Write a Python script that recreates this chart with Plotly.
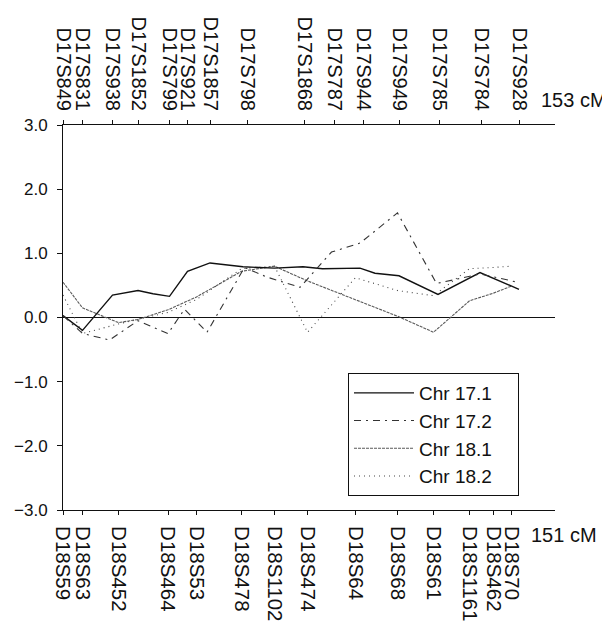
import plotly.graph_objects as go

# Marker positions (cM) and names
chr17_markers = ["D17S849", "D17S831", "D17S938", "D17S1852", "D17S799", "D17S921", "D17S1857",
                 "D17S798", "D17S1868", "D17S787", "D17S944", "D17S949", "D17S785", "D17S784", "D17S928"]
chr17_pos = [0, 6.5, 16.5, 25, 35.5, 41.5, 49, 61.5, 80.5, 90.5, 100, 112, 125.5, 139.5, 152]

chr18_markers = ["D18S59", "D18S63", "D18S452", "D18S464", "D18S53", "D18S478", "D18S1102",
                 "D18S474", "D18S64", "D18S68", "D18S61", "D18S1161", "D18S462", "D18S70"]
chr18_pos = [0, 6.5, 18.5, 35, 44.5, 59.5, 70.5, 81.5, 97.5, 111.5, 123.5, 135.5, 143.5, 149.5]

# Series
chr17_1_x = [0, 6.5, 16.5, 25, 30, 35.5, 41.5, 49, 60, 70.5, 80, 86.5, 99, 104, 112, 125, 139, 152]
chr17_1_y = [0.03, -0.2, 0.35, 0.42, 0.37, 0.33, 0.72, 0.85, 0.79, 0.77, 0.79, 0.76, 0.77, 0.69, 0.65, 0.36, 0.70, 0.44]

chr17_2_x = [0, 6.5, 15.5, 25, 35, 40.5, 48, 60.5, 68, 76.5, 79, 89.5, 99, 111.5, 124.5, 132.5, 139, 151.5]
chr17_2_y = [0.03, -0.25, -0.35, -0.05, -0.25, 0.13, -0.23, 0.78, 0.63, 0.5, 0.47, 1.02, 1.16, 1.63, 0.53, 0.61, 0.68, 0.55]

chr18_1_x = [0, 6.5, 18.5, 25, 35, 44.5, 59.5, 70.5, 81.5, 97.5, 111.5, 123.5, 135.5, 143.5, 149.5]
chr18_1_y = [0.55, 0.15, -0.08, -0.03, 0.12, 0.32, 0.72, 0.8, 0.57, 0.27, 0.02, -0.23, 0.26, 0.38, 0.49]

chr18_2_x = [0, 6.5, 18.5, 35, 44.5, 59.5, 70.5, 81.5, 97.5, 111.5, 123.5, 135.5, 143.5, 149.5]
chr18_2_y = [0.35, -0.25, -0.1, 0.08, 0.28, 0.76, 0.8, -0.23, 0.62, 0.42, 0.34, 0.76, 0.78, 0.80]

y_ticks = [3, 2, 1, 0, -1, -2, -3]
y_ticktext = ["3.0", "2.0", "1.0", "0.0", "\u22121.0", "\u22122.0", "\u22123.0"]

FONT = "Liberation Sans, Arial, sans-serif"
XR = [0, 164]
PAD = "\u00a0\u00a0\u00a0\u00a0"

# page has an 8px body margin, so the figure is 8px smaller and margins shifted
W, H = 602, 617
ML, MR, MT, MB = 55, 55, 117, 115
PW, PH = W - ML - MR, H - MT - MB
OX, OY = 8 + ML, 8 + MT  # page px of plot-area top-left


def px_x(px):
    return (px - OX) / PW


def px_y(py):
    return (OY + PH - py) / PH


fig = go.Figure()
fig.add_trace(go.Scatter(x=chr17_1_x, y=chr17_1_y, mode="lines", name="Chr 17.1" + PAD, xaxis="x2",
                         line=dict(color="#111111", width=1.4, dash="solid")))
fig.add_trace(go.Scatter(x=chr17_2_x, y=chr17_2_y, mode="lines", name="Chr 17.2" + PAD, xaxis="x2",
                         line=dict(color="#333333", width=1.1, dash="7px,5px,2px,5px")))
fig.add_trace(go.Scatter(x=chr18_1_x, y=chr18_1_y, mode="lines", name="Chr 18.1" + PAD,
                         line=dict(color="#5a5a5a", width=1.1, dash="3px,1px")))
fig.add_trace(go.Scatter(x=chr18_2_x, y=chr18_2_y, mode="lines", name="Chr 18.2" + PAD,
                         line=dict(color="#444444", width=1.1, dash="1px,4px")))

fig.update_layout(
    width=W, height=H,
    margin=dict(l=ML, r=MR, t=MT, b=MB, autoexpand=False),
    paper_bgcolor="white", plot_bgcolor="white",
    font=dict(family=FONT, size=20, color="#111111"),
    showlegend=True,
    legend=dict(x=px_x(348), y=px_y(373), xanchor="left", yanchor="top",
                bordercolor="#111111", borderwidth=1, bgcolor="white",
                font=dict(family=FONT, size=19, color="#111111"),
                tracegroupgap=0, itemwidth=60),
    xaxis=dict(range=XR, tickmode="array", tickvals=chr18_pos, ticktext=chr18_markers,
               tickangle=90, showline=True, linecolor="#111111", linewidth=1,
               ticks="outside", ticklen=4, tickcolor="#111111", showgrid=False, zeroline=False,
               ticklabelstandoff=7, automargin=False,
               tickfont=dict(family=FONT, size=20.5, color="#111111")),
    xaxis2=dict(range=XR, overlaying="x", side="top", anchor="y", tickmode="array",
                tickvals=chr17_pos, ticktext=chr17_markers, tickangle=90,
                showline=True, linecolor="#111111", linewidth=1,
                ticks="outside", ticklen=4, tickcolor="#111111", showgrid=False, zeroline=False,
                ticklabelstandoff=2, automargin=False,
                tickfont=dict(family=FONT, size=20, color="#111111")),
    yaxis=dict(range=[-3, 3], tickmode="array", tickvals=y_ticks, ticktext=y_ticktext,
               showline=True, linecolor="#111111", linewidth=1, ticks="outside", ticklen=5,
               tickcolor="#111111", showgrid=False, zeroline=True, zerolinecolor="#111111",
               zerolinewidth=1, ticklabelstandoff=6, automargin=False,
               tickfont=dict(family=FONT, size=17, color="#111111")),
    annotations=[
        dict(text="153 cM", xref="paper", yref="paper", x=px_x(539), y=px_y(100),
             xanchor="left", yanchor="middle", showarrow=False,
             font=dict(family=FONT, size=20, color="#111111")),
        dict(text="151 cM", xref="paper", yref="paper", x=px_x(529), y=px_y(535),
             xanchor="left", yanchor="middle", showarrow=False,
             font=dict(family=FONT, size=20, color="#111111")),
    ],
)

fig.write_html("out.html")
